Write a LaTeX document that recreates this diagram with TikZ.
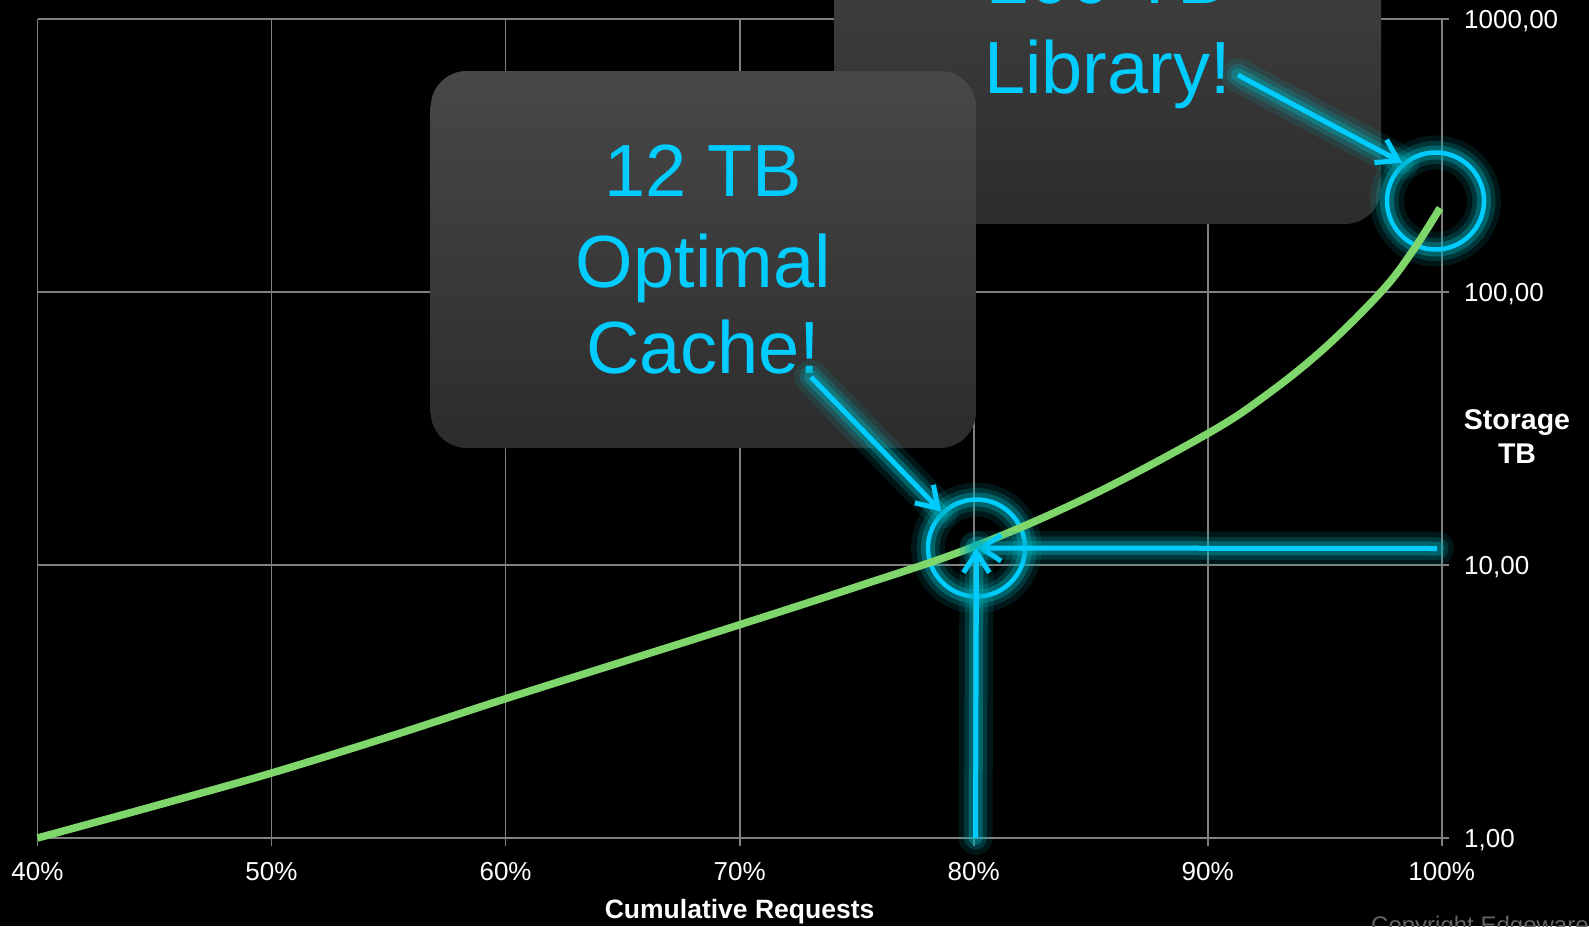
\documentclass[tikz,border=0pt]{standalone}
\usepackage{fontspec}
\setmainfont{Liberation Sans}
\usetikzlibrary{arrows.meta}
\definecolor{gridgray}{RGB}{128,128,128}
\definecolor{cyanline}{RGB}{0,204,255}
\definecolor{glowc}{RGB}{0,175,185}
\definecolor{curvegreen}{RGB}{127,214,107}
\definecolor{boxtop}{RGB}{72,72,72}
\definecolor{boxbot}{RGB}{44,44,44}
\definecolor{copygray}{RGB}{100,100,100}
\tikzset{
  gridline/.style={draw=gridgray, line width=1.8pt},
  ticklabel/.style={text=white, font=\fontsize{26}{31}\selectfont, inner sep=0pt},
  axistitle/.style={text=white, font=\fontsize{26.5}{31}\selectfont\bfseries, inner sep=0pt},
  callout/.style={rounded corners=36pt, top color=boxtop, bottom color=boxbot, draw=none},
  bigtext/.style={text=cyanline, font=\fontsize{74}{89}\selectfont, inner sep=0pt},
  glow/.style={
    preaction={draw=glowc, draw opacity=0.13, line width=34pt, arrows=-, line cap=round},
    preaction={draw=glowc, draw opacity=0.22, line width=23pt, arrows=-, line cap=round},
    preaction={draw=glowc, draw opacity=0.38, line width=14pt, arrows=-, line cap=round}},
  ring/.style={circle, draw=cyanline, line width=4.5pt, minimum size=97pt, inner sep=0pt, glow},
  cyanarrow/.style={draw=cyanline, line width=5pt, glow, -{Straight Barb[length=20pt, width=26pt]}},
  curve/.style={draw=curvegreen, line width=7.5pt},
}
\begin{document}
\begin{tikzpicture}[x=1pt, y=-1pt]
\useasboundingbox (0,0) rectangle (1589,926);
\fill[black] (0,0) rectangle (1589,926);
\clip (0,0) rectangle (1589,926);

% grid
\foreach \i in {0,...,6} {
  \draw[gridline] (37.5+234.03*\i, 19.3) -- (37.5+234.03*\i, 846);
}
\foreach \j in {0,...,3} {
  \draw[gridline] (37.5, 19.3+272.9*\j) -- (1449, 19.3+272.9*\j);
}

% x tick labels
\node[ticklabel, anchor=base] (x40) at (37.5, 880) {40\%};
\node[ticklabel, anchor=base] (x50) at (271.5, 880) {50\%};
\node[ticklabel, anchor=base] (x60) at (505.6, 880) {60\%};
\node[ticklabel, anchor=base] (x70) at (739.6, 880) {70\%};
\node[ticklabel, anchor=base] (x80) at (973.6, 880) {80\%};
\node[ticklabel, anchor=base] (x90) at (1207.7, 880) {90\%};
\node[ticklabel, anchor=base] (x100) at (1441.7, 880) {100\%};

% y tick labels
\node[ticklabel, anchor=base west] (y1000) at (1464, 28.6) {1000,00};
\node[ticklabel, anchor=base west] (y100) at (1464, 301.5) {100,00};
\node[ticklabel, anchor=base west] (y10) at (1464, 574.4) {10,00};
\node[ticklabel, anchor=base west] (y1) at (1464, 847.3) {1,00};

% axis titles
\node[axistitle, anchor=base] (xtitle) at (739.6, 918.5) {Cumulative Requests};
\node[axistitle, font=\fontsize{28.5}{33}\selectfont\bfseries, anchor=base] (ytitleA) at (1517, 429) {Storage};
\node[axistitle, font=\fontsize{28.5}{33}\selectfont\bfseries, anchor=base] (ytitleB) at (1517, 463) {TB};

% copyright
\node[anchor=base west, text=copygray, font=\fontsize{24}{28}\selectfont, inner sep=0pt] (copy) at (1371, 933) {Copyright Edgeware};

% callout boxes
\path[callout] (834,-160) rectangle (1381,224);
\node[bigtext, anchor=base] (lib1) at (1107.5, 4) {200 TB};
\node[bigtext, anchor=base] (lib2) at (1107.5, 93) {Library!};

\path[callout] (430.7,71) rectangle (976,448);
\node[bigtext, anchor=base] (opt1) at (703.3, 196) {12 TB};
\node[bigtext, anchor=base] (opt2) at (703.3, 287) {Optimal};
\node[bigtext, anchor=base] (opt3) at (703.3, 373) {Cache!};

% rings
\node[ring] (c1) at (976.5, 548) {};
\node[ring] (c2) at (1435.5, 201) {};

% curve
\draw[curve] plot[smooth, tension=0.6] coordinates {
  (37.5,838) (154.5,806) (271.6,773) (388,737) (504.7,699) (621.8,662)
  (738.8,625) (855.9,587) (972.9,547) (1089.9,496) (1207,434) (1265,396)
  (1323.5,349) (1381,292) (1412,252) (1440,208)};

% arrows
\coordinate (s1) at (811, 377);
\coordinate (s2) at (1238, 75);
\coordinate (h1) at (1437, 548.5);
\coordinate (v1) at (975.5, 838);
\draw[cyanarrow] (s1) -- (c1);
\draw[cyanarrow] (s2) -- (c2.131);
\draw[cyanarrow] (h1) -- (c1.center);
\draw[cyanarrow] (v1) -- (c1.center);
\end{tikzpicture}
\end{document}
